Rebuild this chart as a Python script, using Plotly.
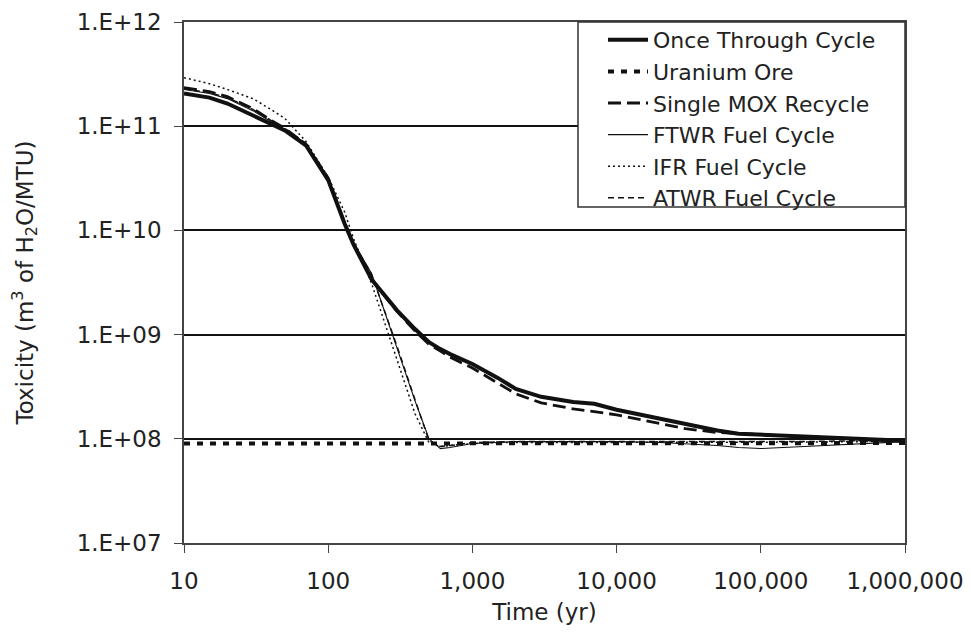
import plotly.graph_objects as go

# Time points (yr)
times = [10, 15, 20, 30, 40, 50, 70, 100, 130, 150, 200, 300, 400, 500, 600, 700,
         1000, 1500, 2000, 3000, 5000, 7000, 10000, 20000, 30000, 50000, 70000,
         100000, 200000, 500000, 1000000]

once_through = [2.06e11, 1.88e11, 1.65e11, 1.27e11, 1.04e11, 9.12e10, 6.56e10, 3.04e10,
                1.16e10, 7.29e9, 3.38e9, 1.71e9, 1.13e9, 8.46e8, 7.26e8, 6.50e8,
                5.22e8, 3.84e8, 3.01e8, 2.53e8, 2.26e8, 2.17e8, 1.90e8, 1.56e8, 1.37e8,
                1.20e8, 1.12e8, 1.10e8, 1.05e8, 1.00e8, 9.6e7]

ore_times = [10, 100, 1000, 10000, 100000, 1000000]
uranium_ore = [9.0e7, 9.0e7, 9.0e7, 9.0e7, 9.0e7, 9.1e7]

single_mox = [2.35e11, 2.15e11, 1.92e11, 1.48e11, 1.14e11, 9.53e10, 6.70e10, 3.18e10,
              1.18e10, 7.45e9, 3.38e9, 1.67e9, 1.08e9, 8.09e8, 6.95e8, 6.08e8,
              4.78e8, 3.44e8, 2.70e8, 2.21e8, 1.94e8, 1.82e8, 1.70e8, 1.40e8, 1.25e8,
              1.15e8, 1.12e8, 1.10e8, 1.05e8, 1.00e8, 9.6e7]

ftwr = [2.25e11, 2.06e11, 1.84e11, 1.41e11, 1.11e11, 9.32e10, 6.70e10, 3.11e10,
        1.18e10, 7.62e9, 3.85e9, 7.41e8, 2.31e8, 1.00e8, 8.06e7, 8.24e7,
        9.00e7, 9.20e7, 9.40e7, 9.40e7, 9.40e7, 9.40e7, 9.40e7, 9.20e7, 9.00e7,
        8.61e7, 8.24e7, 8.06e7, 8.43e7, 9.00e7, 9.40e7]

ifr = [2.92e11, 2.56e11, 2.25e11, 1.84e11, 1.45e11, 1.19e11, 7.16e10, 3.25e10,
       1.50e10, 8.32e9, 3.09e9, 5.70e8, 1.74e8, 9.20e7, 8.43e7, 8.61e7,
       9.00e7, 9.20e7, 9.20e7, 9.20e7, 9.20e7, 9.20e7, 9.20e7, 9.20e7, 9.20e7,
       9.20e7, 9.20e7, 9.20e7, 9.30e7, 9.40e7, 9.40e7]

atwr = [2.29e11, 2.10e11, 1.88e11, 1.45e11, 1.14e11, 9.53e10, 6.85e10, 3.11e10,
        1.18e10, 7.62e9, 3.77e9, 7.75e8, 2.37e8, 9.60e7, 8.43e7, 8.61e7,
        9.20e7, 9.40e7, 9.40e7, 9.40e7, 9.40e7, 9.40e7, 9.40e7, 9.40e7, 9.40e7,
        9.40e7, 9.40e7, 9.40e7, 9.40e7, 9.60e7, 9.60e7]

x_tickvals = [10, 100, 1000, 10000, 100000, 1000000]
x_ticktext = ["10", "100", "1,000", "10,000", "100,000", "1,000,000"]
y_tickvals = [1e7, 1e8, 1e9, 1e10, 1e11, 1e12]
y_ticktext = ["1.E+07", "1.E+08", "1.E+09", "1.E+10", "1.E+11", "1.E+12"]

FONT = "DejaVu Sans, Liberation Sans, Arial, sans-serif"
INK = "#111111"
TXT = "#222222"
FS = 23
LFS = 22

fig = go.Figure()
fig.add_trace(go.Scatter(x=times, y=once_through, mode="lines", name="Once Through Cycle",
                         legendgroup="a", line=dict(color=INK, width=4)))
fig.add_trace(go.Scatter(x=ore_times, y=uranium_ore, mode="lines", name="Uranium Ore",
                         legendgroup="b", line=dict(color=INK, width=4, dash="6px,7px")))
fig.add_trace(go.Scatter(x=times, y=single_mox, mode="lines", name="Single MOX Recycle",
                         legendgroup="c", line=dict(color=INK, width=2.8, dash="13px,6px")))
fig.add_trace(go.Scatter(x=times, y=ftwr, mode="lines", name="FTWR Fuel Cycle",
                         legendgroup="d", line=dict(color=INK, width=1.1)))
fig.add_trace(go.Scatter(x=times, y=ifr, mode="lines", name="IFR Fuel Cycle",
                         legendgroup="e", line=dict(color=INK, width=1.5, dash="2px,3px")))
fig.add_trace(go.Scatter(x=times, y=atwr, mode="lines", name="ATWR Fuel Cycle",
                         legendgroup="f", line=dict(color=INK, width=1.5, dash="6px,4px")))

# page body has an 8px margin, so figure coords = window coords - 8
L, R, T, B = 176, 66, 14, 89
W, H = 963, 624
pw, ph = W - L - R, H - T - B

fig.update_layout(
    width=W, height=H,
    margin=dict(l=L, r=R, t=T, b=B, autoexpand=False),
    paper_bgcolor="white", plot_bgcolor="white",
    font=dict(family=FONT, size=FS, color=TXT),
    showlegend=True,
    legend=dict(x=(595 - L) / pw, y=1 + (T - 11) / ph, xanchor="left", yanchor="top",
                bgcolor="rgba(0,0,0,0)", borderwidth=0,
                font=dict(family=FONT, size=LFS, color=TXT),
                traceorder="grouped", tracegroupgap=0, itemwidth=40),
    shapes=[dict(type="rect", xref="paper", yref="paper",
                 x0=(570 - L) / pw, x1=1.0, y0=1 - (199 - T) / ph, y1=1.0,
                 fillcolor="white", line=dict(color="#333333", width=1.5), layer="above")],
)

fig.update_xaxes(type="log", range=[1, 6], tickmode="array", tickvals=x_tickvals,
                 ticktext=x_ticktext, ticks="outside", ticklen=8, tickcolor="#444444",
                 showline=True, linecolor="#444444", linewidth=1.5, mirror=True,
                 showgrid=False, zeroline=False, ticklabelstandoff=9, automargin=False,
                 ticklabeloverflow="allow",
                 title=dict(text="Time (yr)", standoff=11, font=dict(size=FS)))
fig.update_yaxes(type="log", range=[7, 12], tickmode="array", tickvals=y_tickvals,
                 ticktext=y_ticktext, ticks="outside", ticklen=8, tickcolor="#444444",
                 showline=True, linecolor="#444444", linewidth=1.5, mirror=True,
                 showgrid=True, gridcolor="#111111", gridwidth=1.5, zeroline=False,
                 ticklabelstandoff=8, automargin=False, ticklabeloverflow="allow",
                 title=dict(text="Toxicity (m<sup>3</sup> of H<sub>2</sub>O/MTU)",
                            standoff=38, font=dict(size=FS)))

fig.write_html("out.html")
